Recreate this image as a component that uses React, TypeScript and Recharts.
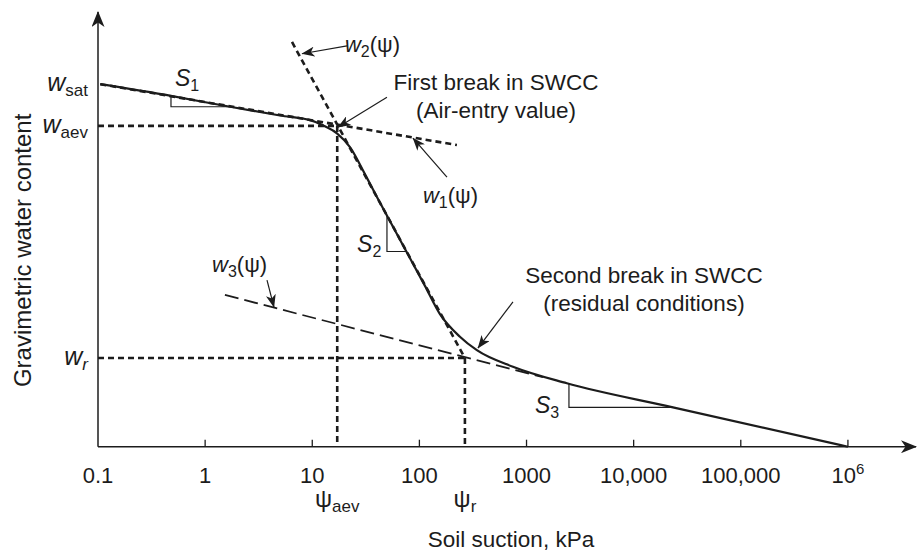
import React from 'react';
import { ComposedChart, Line, Scatter, XAxis, YAxis } from 'recharts';

document.body.style.margin = '0';

const FONT = '"Liberation Sans", Arial, Helvetica, sans-serif';
const INK = '#1c1c1c';

// soil suction axis (kPa, log scale)
const xTicks = [0.1, 1, 10, 100, 1000, 10000, 100000, 1000000];
const xTickLabels = ['0.1', '1', '10', '100', '1000', '10,000', '100,000', '10^6'];
const X_MIN = 0.1;
const X_MAX = 4.32e6;
const Y_MAX = 100;

// characteristic points (water content in relative units)
const wSat = 83.4;
const wAev = 73.8;
const wR = 20.4;
const psiAev = 17.1;
const psiR = 266;

const yTicks = [wR, wAev, wSat];
const yTickSubs = ['r', 'aev', 'sat'];
const psiTicks = [psiAev, psiR];
const psiSubs = ['aev', 'r'];

// SWCC curve
const swcc = [
  { x: 0.105, y: 83.4 },
  { x: 0.48, y: 80.7 },
  { x: 1.71, y: 78.2 },
  { x: 5.0, y: 76.2 },
  { x: 10.2, y: 74.9 },
  { x: 13.1, y: 73.7 },
  { x: 17.0, y: 72.1 },
  { x: 22.5, y: 68.9 },
  { x: 31.0, y: 62.7 },
  { x: 42.9, y: 56.1 },
  { x: 73.4, y: 45.5 },
  { x: 112.7, y: 37.0 },
  { x: 155.6, y: 30.5 },
  { x: 239, y: 25.3 },
  { x: 344, y: 22.2 },
  { x: 747, y: 18.4 },
  { x: 2380, y: 14.6 },
  { x: 23270, y: 9.06 },
  { x: 1000000, y: 0 },
];

// tangent lines
const w1Line = [{ x: 0.105, y: 83.4 }, { x: 224, y: 69.4 }];
const w2Line = [{ x: 6.47, y: 93.1 }, { x: psiR, y: wR }];
const w3Line = [{ x: 1.53, y: 34.9 }, { x: 1424, y: 16.0 }];

// construction lines at the breaks
const aevH = [{ x: X_MIN, y: wAev }, { x: psiAev, y: wAev }];
const aevV = [{ x: psiAev, y: wAev }, { x: psiAev, y: 0 }];
const resH = [{ x: X_MIN, y: wR }, { x: psiR, y: wR }];
const resV = [{ x: psiR, y: wR }, { x: psiR, y: 0 }];

// slope triangles
const s1Tri = [{ x: 0.48, y: 80.7 }, { x: 0.48, y: 78.2 }, { x: 1.71, y: 78.2 }];
const s2Tri = [{ x: 49.8, y: 53.2 }, { x: 49.8, y: 44.9 }, { x: 76, y: 44.9 }];
const s3Tri = [{ x: 2489, y: 14.55 }, { x: 2489, y: 9.06 }, { x: 23270, y: 9.06 }];

// annotation arrows [from, to]
const arrows = [
  [{ x: 21.1, y: 92.2 }, { x: 8.02, y: 90.4 }],
  [{ x: 49.8, y: 80.4 }, { x: 17.4, y: 73.5 }],
  [{ x: 180.9, y: 62.0 }, { x: 87.1, y: 71.0 }],
  [{ x: 3.78, y: 38.3 }, { x: 4.39, y: 32.1 }],
  [{ x: 747, y: 33.3 }, { x: 352, y: 22.7 }],
];

const xAxisLine = [{ x: X_MIN, y: 0 }, { x: X_MAX, y: 0 }];
const yAxisLine = [{ x: X_MIN, y: 0 }, { x: X_MIN, y: Y_MAX }];

// text anchors
const notes = [
  { x: 0.523, y: 83.0, id: 'S1' },
  { x: 26.2, y: 44.8, id: 'S2' },
  { x: 1199, y: 7.75, id: 'S3' },
  { x: 20.2, y: 90.8, id: 'w2' },
  { x: 108, y: 56.1, id: 'w1' },
  { x: 1.16, y: 40.3, id: 'w3' },
  { x: 518.6, y: 82.05, id: 'first' },
  { x: 12480, y: 37.6, id: 'second' },
];
const firstBreak = ['First break in SWCC', '(Air-entry value)'];
const secondBreak = ['Second break in SWCC', '(residual conditions)'];

const txt = { fontFamily: FONT, fill: INK };

const SuctionTick = (props: any) => {
  const { x, y, payload } = props;
  const p = psiTicks.indexOf(payload.value);
  if (p >= 0) {
    return (
      <text x={x} y={y + 60} textAnchor="middle" fontSize={24} {...txt}>
        ψ<tspan fontSize={17} dy={5}>{psiSubs[p]}</tspan>
      </text>
    );
  }
  const i = xTicks.indexOf(payload.value);
  const label = xTickLabels[i];
  return (
    <g>
      {i > 0 && <line x1={x} x2={x} y1={y - 7} y2={y} stroke={INK} strokeWidth={1.3} />}
      <text x={x} y={y + 36} textAnchor="middle" fontSize={22} {...txt}>
        {label === '10^6' ? (
          <>
            10<tspan dy={-9} fontSize={15}>6</tspan>
          </>
        ) : (
          label
        )}
      </text>
    </g>
  );
};

const WaterTick = (props: any) => {
  const { x, y, index } = props;
  const sub = yTickSubs[index];
  return (
    <text x={x - 10} y={y + 7} textAnchor="end" fontSize={25} {...txt}>
      <tspan fontStyle="italic">w</tspan>
      <tspan fontSize={17} dy={5} fontStyle={sub === 'r' ? 'italic' : 'normal'}>
        {sub}
      </tspan>
    </text>
  );
};

const NoteShape = (props: any) => {
  const { cx, cy, payload } = props;
  const id: string = payload.id;
  if (id.startsWith('S')) {
    return (
      <text x={cx} y={cy} fontSize={23} fontStyle="italic" {...txt}>
        S<tspan fontSize={16} dy={5} fontStyle="normal">{id.slice(1)}</tspan>
      </text>
    );
  }
  if (id.startsWith('w')) {
    return (
      <text x={cx} y={cy} fontSize={22} {...txt}>
        <tspan fontStyle="italic">w</tspan>
        <tspan fontSize={16} dy={5}>{id.slice(1)}</tspan>
        <tspan dy={-5}>(ψ)</tspan>
      </text>
    );
  }
  const lines = id === 'first' ? firstBreak : secondBreak;
  return (
    <text x={cx} y={cy} textAnchor="middle" fontSize={22.5} {...txt}>
      <tspan x={cx}>{lines[0]}</tspan>
      <tspan x={cx} dy={28}>{lines[1]}</tspan>
    </text>
  );
};

const thin = { stroke: INK, strokeWidth: 1.2, dot: false, activeDot: false, isAnimationActive: false, type: 'linear' as const };
const dotted = { stroke: INK, strokeWidth: 2.6, strokeDasharray: '6 4', dot: false, activeDot: false, isAnimationActive: false, type: 'linear' as const };

export default function App() {
  return (
    <ComposedChart width={918} height={553} margin={{ top: 12, right: 2, bottom: 26.3, left: 0 }}>
      <defs>
        <marker id="axisHead" viewBox="0 0 16 13" refX={15} refY={6.5} markerWidth={16} markerHeight={13} markerUnits="userSpaceOnUse" orient="auto">
          <path d="M0,0 L16,6.5 L0,13 L4.5,6.5 Z" fill={INK} />
        </marker>
        <marker id="noteHead" viewBox="0 0 13 10" refX={12.5} refY={5} markerWidth={13} markerHeight={10} markerUnits="userSpaceOnUse" orient="auto">
          <path d="M0,0 L13,5 L0,10 L3.5,5 Z" fill={INK} />
        </marker>
      </defs>
      <XAxis
        type="number"
        dataKey="x"
        scale="log"
        domain={[X_MIN, X_MAX]}
        ticks={[...xTicks, ...psiTicks]}
        interval={0}
        axisLine={false}
        tickLine={false}
        tickSize={0}
        tickMargin={0}
        height={80}
        tick={<SuctionTick />}
        label={{
          content: (p: any) => (
            <text x={p.viewBox.x + p.viewBox.width / 2 + 4} y={p.viewBox.y + 100} textAnchor="middle" fontSize={22.5} {...txt}>
              Soil suction, kPa
            </text>
          ),
        }}
      />
      <YAxis
        type="number"
        dataKey="y"
        domain={[0, Y_MAX]}
        ticks={yTicks}
        interval={0}
        width={98}
        axisLine={false}
        tickLine={false}
        tickSize={0}
        tickMargin={0}
        tick={<WaterTick />}
        label={{
          content: (p: any) => (
            <text transform={`translate(31, ${p.viewBox.y + p.viewBox.height / 2 + 21}) rotate(-90)`} textAnchor="middle" fontSize={24} {...txt}>
              Gravimetric water content
            </text>
          ),
        }}
      />

      <Line data={xAxisLine} dataKey="y" {...thin} strokeWidth={1.5} markerEnd="url(#axisHead)" />
      <Line data={yAxisLine} dataKey="y" {...thin} strokeWidth={1.5} markerEnd="url(#axisHead)" />

      <Line data={aevH} dataKey="y" {...dotted} />
      <Line data={aevV} dataKey="y" {...dotted} />
      <Line data={resH} dataKey="y" {...dotted} />
      <Line data={resV} dataKey="y" {...dotted} />
      <Line data={w1Line} dataKey="y" {...dotted} />
      <Line data={w2Line} dataKey="y" {...dotted} />
      <Line data={w3Line} dataKey="y" {...dotted} strokeWidth={1.8} strokeDasharray="14 6" />

      <Line data={s1Tri} dataKey="y" {...thin} />
      <Line data={s2Tri} dataKey="y" {...thin} />
      <Line data={s3Tri} dataKey="y" {...thin} />

      <Line data={swcc} dataKey="y" type="monotone" stroke={INK} strokeWidth={2.2} dot={false} activeDot={false} isAnimationActive={false} />

      {arrows.map((a, i) => (
        <Line key={i} data={a} dataKey="y" {...thin} markerEnd="url(#noteHead)" />
      ))}

      <Scatter data={notes} dataKey="y" shape={<NoteShape />} isAnimationActive={false} />
    </ComposedChart>
  );
}
